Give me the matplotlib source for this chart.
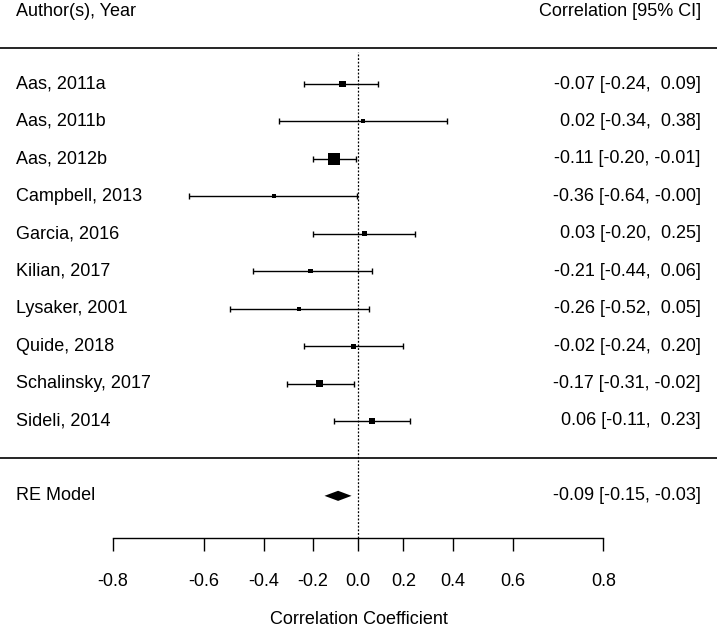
import matplotlib.pyplot as plt
import numpy as np

plt.rcParams["font.family"] = ["Liberation Sans", "DejaVu Sans"]
plt.rcParams["font.size"] = 13

# study-level correlations with 95% CI
studies = ["Aas, 2011a", "Aas, 2011b", "Aas, 2012b", "Campbell, 2013", "Garcia, 2016",
           "Kilian, 2017", "Lysaker, 2001", "Quide, 2018", "Schalinsky, 2017", "Sideli, 2014"]
est = [-0.07, 0.02, -0.11, -0.36, 0.03, -0.21, -0.26, -0.02, -0.17, 0.06]
ci_lo = [-0.24, -0.34, -0.20, -0.64, -0.20, -0.44, -0.52, -0.24, -0.31, -0.11]
ci_hi = [0.09, 0.38, -0.01, -0.004, 0.25, 0.06, 0.05, 0.20, -0.02, 0.23]

# random-effects summary
re_label = "RE Model"
re_est, re_lo, re_hi = -0.09, -0.15, -0.03

tick_vals = [-0.8, -0.6, -0.4, -0.2, 0.0, 0.2, 0.4, 0.6, 0.8]

# plot on Fisher z scale, label in r
z = np.arctanh(est)
zlo = np.arctanh(ci_lo)
zhi = np.arctanh(ci_hi)
k = len(studies)
rows = np.arange(k, 0, -1)

# square size from inverse-variance weights (0.5 .. 1.5)
w = 1 / ((zhi - zlo) / (2 * 1.96)) ** 2
psize = 0.5 + (w - w.min()) / (w.max() - w.min())
side = 8 * psize * 0.72

fig = plt.figure(figsize=(7.17, 6.3), dpi=100)
ax = fig.add_axes([0, 92.3 / 630, 1, 537.7 / 630])
ax.set_xlim(-1.6055, 1.608)
ax.set_ylim(-2.118, 12.244)

ax.errorbar(z, rows, xerr=[z - zlo, zhi - z], fmt="none", ecolor="black",
            elinewidth=1, capsize=2.4, capthick=1)
ax.scatter(z, rows, marker="s", s=side ** 2, color="black", linewidths=0, zorder=3)

# summary diamond
rz, rlo, rhi = np.arctanh([re_est, re_lo, re_hi])
h = 0.135
ax.fill([rlo, rz, rhi, rz], [-1, -1 + h, -1, -1 - h], color="black", lw=0)

ax.axhline(k + 0.95, color="black", lw=1.2)
ax.axhline(0, color="black", lw=1.2)
ax.vlines(0, -2.118, k + 0.85, color="black", lw=0.9, linestyles=(0, (1.5, 1.4)))

xl, xr = -1.535, 1.535
ax.text(xl, k + 1.95, "Author(s), Year", ha="left", va="center")
ax.text(xr, k + 1.95, "Correlation [95% CI]", ha="right", va="center")
for r, name, e, lo, hi in zip(rows, studies, est, ci_lo, ci_hi):
    ax.text(xl, r, name, ha="left", va="center")
    ax.text(xr, r, f"{e:.2f} [{lo:5.2f}, {hi:5.2f}]", ha="right", va="center")
ax.text(xl, -1, re_label, ha="left", va="center")
ax.text(xr, -1, f"{re_est:.2f} [{re_lo:5.2f}, {re_hi:5.2f}]", ha="right", va="center")

for s in ["top", "left", "right"]:
    ax.spines[s].set_visible(False)
ax.spines["bottom"].set_linewidth(1)
ax.spines["bottom"].set_bounds(np.arctanh(-0.8), np.arctanh(0.8))
ax.set_yticks([])
ax.set_xticks(np.arctanh(tick_vals))
ax.set_xticklabels([f"{t:.1f}" for t in tick_vals])
ax.tick_params(axis="x", direction="out", length=9.7, width=1, pad=16)
ax.set_xlabel("Correlation Coefficient", labelpad=15)

fig.savefig("out.png", dpi=100)
